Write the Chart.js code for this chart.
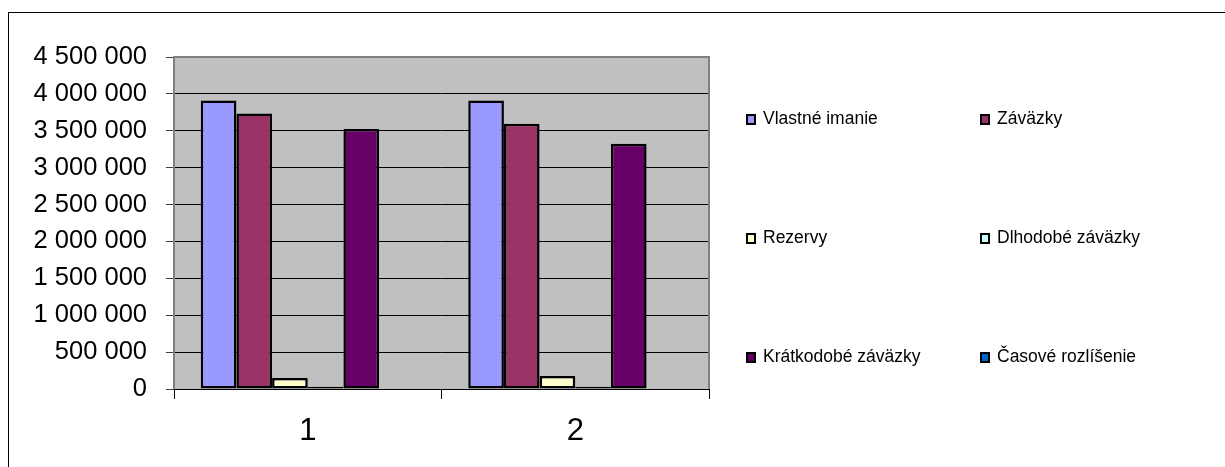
<!DOCTYPE html>
<html>
<head>
<meta charset="utf-8">
<script src="https://cdn.jsdelivr.net/npm/chart.js@4"></script>
<style>
    html, body { margin: 0; padding: 0; background: #fff; }
    #wrap { position: relative; width: 1225px; height: 467px; overflow: hidden; }
    #frame { position: absolute; left: 8px; top: 12px; width: 1300px; height: 500px;
             border-top: 1px solid #000; border-left: 1px solid #000; }
    #chart { position: absolute; left: 0; top: 0; }
    .leg { position: absolute; font-family: "Liberation Sans", Arial, sans-serif; font-size: 17.5px;
           color: #000; white-space: nowrap; line-height: 20px; }
    .leg i { display: inline-block; width: 6px; height: 7px; border: 2px solid #000;
             margin-right: 7px; vertical-align: -1px; }
</style>
</head>
<body>
<div id="wrap">
    <div id="frame"></div>
    <canvas id="chart" width="1225" height="467"></canvas>
    <div id="legend"></div>
</div>
<script>
// Chart data
const categories = ['1', '2'];
const seriesNames = ['Vlastné imanie', 'Záväzky', 'Rezervy', 'Dlhodobé záväzky', 'Krátkodobé záväzky', 'Časové rozlíšenie'];
const seriesColors = ['#9999FF', '#993366', '#FFFFCC', '#CCFFFF', '#660066', '#0066CC'];
const vlastneImanie = [3910000, 3910000];
const zavazky = [3735000, 3595000];
const rezervy = [148000, 176000];
const dlhodobeZavazky = [30000, 32000];
const kratkodobeZavazky = [3525000, 3325000];
const casoveRozlisenie = [0, 0];
const seriesValues = [vlastneImanie, zavazky, rezervy, dlhodobeZavazky, kratkodobeZavazky, casoveRozlisenie];
const yMax = 4500000;
const yStep = 500000;

function fmt(n) {
    return n.toString().replace(/\B(?=(\d{3})+(?!\d))/g, ' ');
}

// Plot background and border like the old spreadsheet chart
const plotArea = {
    id: 'plotArea',
    beforeDraw(chart) {
        const a = chart.chartArea, ctx = chart.ctx;
        ctx.save();
        ctx.fillStyle = '#C0C0C0';
        ctx.fillRect(a.left, a.top, a.right - a.left, a.bottom - a.top);
        ctx.restore();
    },
    afterDraw(chart) {
        const a = chart.chartArea, ctx = chart.ctx;
        ctx.save();
        ctx.strokeStyle = '#808080';
        ctx.lineWidth = 2;
        ctx.beginPath();
        ctx.moveTo(a.left, a.bottom);
        ctx.lineTo(a.left, a.top);
        ctx.lineTo(a.right, a.top);
        ctx.lineTo(a.right, a.bottom);
        ctx.stroke();
        ctx.strokeStyle = '#000';
        ctx.lineWidth = 1;
        ctx.beginPath();
        ctx.moveTo(a.left, a.bottom + 0.5);
        ctx.lineTo(a.right, a.bottom + 0.5);
        ctx.stroke();
        ctx.restore();
    }
};

new Chart(document.getElementById('chart'), {
    type: 'bar',
    data: {
        labels: categories,
        datasets: seriesNames.map((name, i) => ({
            label: name,
            data: seriesValues[i],
            backgroundColor: seriesColors[i],
            borderColor: '#000',
            borderWidth: 2.5,
            borderSkipped: false,
            categoryPercentage: 0.8,
            barPercentage: 1.0
        }))
    },
    options: {
        responsive: false,
        animation: false,
        layout: { padding: { left: 0, top: 57, right: 516, bottom: 0 } },
        plugins: {
            legend: { display: false },
            tooltip: { enabled: false }
        },
        scales: {
            x: {
                grid: { offset: true, drawOnChartArea: false, tickLength: 10, tickColor: '#000' },
                border: { display: false },
                ticks: {
                    color: '#000',
                    padding: 14,
                    font: { family: 'Liberation Sans', size: 31 }
                },
                afterFit(scale) { scale.height = 78; }
            },
            y: {
                min: 0,
                max: yMax,
                grid: { color: '#000', lineWidth: 1, tickLength: 8, tickColor: '#404040' },
                border: { display: false },
                ticks: {
                    stepSize: yStep,
                    color: '#000',
                    padding: 19,
                    font: { family: 'Liberation Sans', size: 25.5 },
                    callback: v => fmt(v)
                },
                afterFit(scale) { scale.width = 174; }
            }
        }
    },
    plugins: [plotArea]
});

// Legend: two columns, three rows, as in the reference
const legendCols = [746, 980];
const legendRows = [118, 237, 356];
const legendEl = document.getElementById('legend');
seriesNames.forEach((name, i) => {
    const d = document.createElement('div');
    d.className = 'leg';
    d.style.left = legendCols[i % 2] + 'px';
    d.style.top = (legendRows[Math.floor(i / 2)] - 10) + 'px';
    d.innerHTML = '<i style="background:' + seriesColors[i] + '"></i>' + name;
    legendEl.appendChild(d);
});
</script>
</body>
</html>
